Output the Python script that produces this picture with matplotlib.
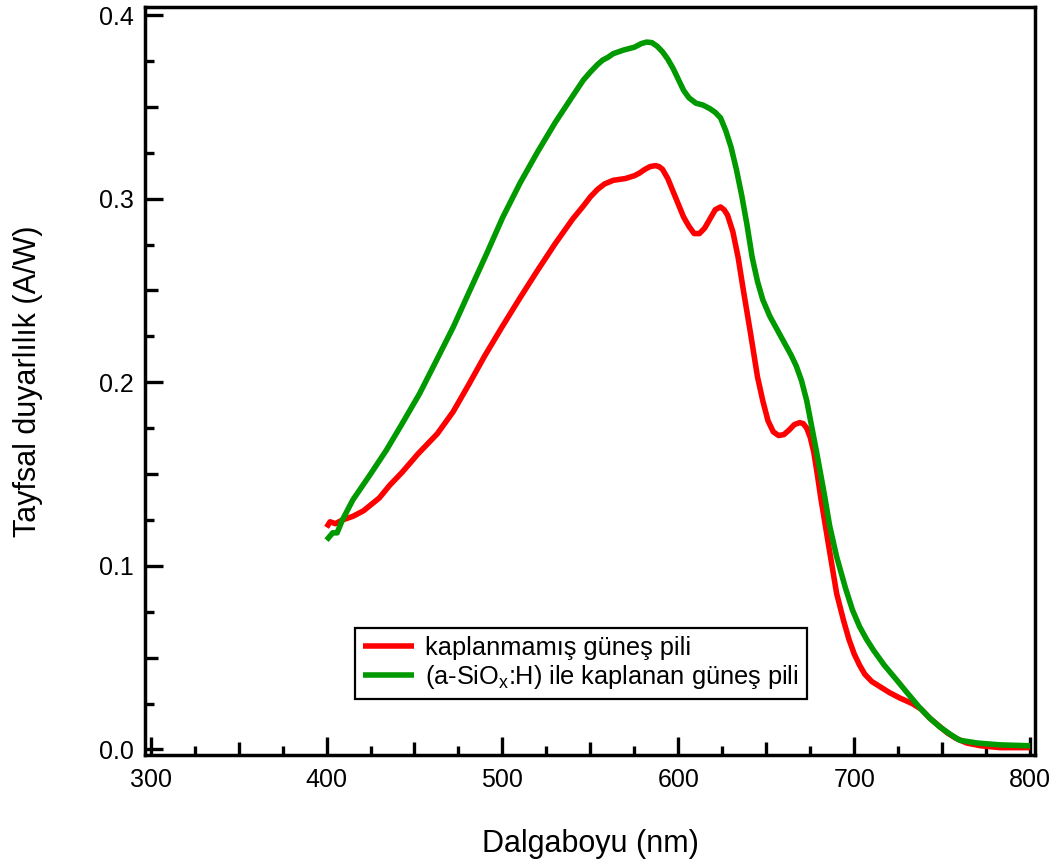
import matplotlib
matplotlib.use("Agg")
import matplotlib.pyplot as plt
from matplotlib.ticker import MultipleLocator, FixedLocator, FormatStrFormatter

plt.rcParams['font.family'] = ['Liberation Sans', 'DejaVu Sans']
plt.rcParams['mathtext.default'] = 'regular'

# Spectral response data (wavelength in nm, responsivity in A/W)
wl_uncoated = [400, 402, 405, 409, 415, 421, 430, 436, 443, 452, 463, 472, 481,
               490, 500, 510, 520, 530, 540, 546, 550, 554, 558, 563, 570, 575,
               578, 581, 584, 587, 589, 591, 594, 597, 600, 603, 606, 609, 612,
               615, 618, 621, 624, 626, 628, 631, 634, 637, 641, 645, 648, 651,
               654, 657, 660, 663, 666, 669, 671, 673, 675, 677, 679, 681, 686,
               690, 694, 697, 700, 703, 706, 710, 715, 720, 726, 733, 738, 743,
               748, 753, 758, 764, 772, 783, 800]
resp_uncoated = [0.121, 0.124, 0.123, 0.125, 0.127, 0.130, 0.137, 0.144, 0.151,
                 0.161, 0.172, 0.184, 0.199, 0.2145, 0.2305, 0.246, 0.261,
                 0.2755, 0.289, 0.296, 0.301, 0.305, 0.308, 0.310, 0.311,
                 0.3125, 0.314, 0.316, 0.3175, 0.318, 0.3175, 0.316, 0.311,
                 0.304, 0.297, 0.290, 0.285, 0.281, 0.281, 0.284, 0.289, 0.294,
                 0.2955, 0.294, 0.291, 0.282, 0.268, 0.250, 0.227, 0.203, 0.190,
                 0.179, 0.173, 0.171, 0.1715, 0.174, 0.177, 0.178, 0.1775,
                 0.175, 0.170, 0.162, 0.150, 0.137, 0.108, 0.085, 0.070, 0.060,
                 0.052, 0.046, 0.041, 0.037, 0.034, 0.031, 0.028, 0.025, 0.022,
                 0.017, 0.013, 0.009, 0.006, 0.0035, 0.002, 0.001, 0.001]

wl_coated = [400, 403.5, 406, 409, 415, 425, 434, 443, 453, 462, 472, 481, 491,
             500, 510, 520, 530, 540, 546, 550, 554, 557, 560, 563, 569, 575,
             579, 582, 585, 588, 591, 594, 597, 600, 603, 606, 610, 614, 618,
             621, 624, 627, 630, 633, 636, 639, 642, 645, 648, 652, 656, 660,
             664, 667, 670, 673, 676, 679, 683, 686, 690, 695, 699, 703, 707,
             711, 717, 724, 730, 737, 743, 749, 755, 760, 770, 783, 800]
resp_coated = [0.114, 0.118, 0.118, 0.125, 0.136, 0.150, 0.163, 0.1775, 0.194,
               0.211, 0.230, 0.249, 0.270, 0.2895, 0.3085, 0.3255, 0.3415,
               0.356, 0.3646, 0.369, 0.373, 0.3755, 0.377, 0.379, 0.381,
               0.3825, 0.3845, 0.3853, 0.385, 0.383, 0.380, 0.376, 0.371,
               0.365, 0.359, 0.355, 0.352, 0.351, 0.349, 0.347, 0.344, 0.337,
               0.328, 0.316, 0.302, 0.286, 0.268, 0.255, 0.245, 0.236, 0.229,
               0.222, 0.215, 0.209, 0.201, 0.190, 0.175, 0.160, 0.139, 0.122,
               0.105, 0.088, 0.076, 0.067, 0.060, 0.054, 0.046, 0.038, 0.031,
               0.023, 0.017, 0.012, 0.008, 0.005, 0.0035, 0.0025, 0.002]

label_uncoated = "kaplanmamış güneş pili"
label_coated = "(a-SiO$_x$:H) ile kaplanan güneş pili"

fig = plt.figure(figsize=(10.54, 8.66), dpi=100)
ax = fig.add_axes([0.1376, 0.128, 0.8444, 0.8639])

ax.plot(wl_uncoated, resp_uncoated, color='#ff0000', lw=4.0,
        label=label_uncoated, solid_joinstyle='round', solid_capstyle='butt')
ax.plot(wl_coated, resp_coated, color='#009900', lw=4.0,
        label=label_coated, solid_joinstyle='round', solid_capstyle='butt')

ax.set_xlim(296.8, 802.8)
ax.set_ylim(-0.0031, 0.4044)

for side in ['left', 'bottom', 'top', 'right']:
    ax.spines[side].set_linewidth(2.5)

ax.xaxis.set_major_locator(MultipleLocator(100))
ax.xaxis.set_minor_locator(FixedLocator([325, 375, 425, 475, 525, 575, 625,
                                          675, 725, 775]))
ax.yaxis.set_major_locator(MultipleLocator(0.1))
ax.yaxis.set_minor_locator(FixedLocator([0.025, 0.075, 0.125, 0.175, 0.225,
                                          0.275, 0.325, 0.375]))
ax.yaxis.set_major_formatter(FormatStrFormatter('%.1f'))

ax.tick_params(which='major', direction='in', length=13, width=2.4,
               labelsize=18, top=False, right=False)
ax.tick_params(which='minor', direction='in', length=6.8, width=2.4,
               top=False, right=False)
ax.tick_params(axis='x', which='major', pad=9)
ax.tick_params(axis='y', which='major', pad=8)

# Intermediate tick marks at the half-steps
secx = ax.secondary_xaxis('bottom')
secx.set_xticks([350, 450, 550, 650, 750])
secx.tick_params(direction='in', length=9.7, width=2.4, labelbottom=False)
secx.spines['bottom'].set_visible(False)
secy = ax.secondary_yaxis('left')
secy.set_yticks([0.05, 0.15, 0.25, 0.35])
secy.tick_params(direction='in', length=9.7, width=2.4, labelleft=False)
secy.spines['left'].set_visible(False)

ax.set_xlabel("Dalgaboyu (nm)", fontsize=22, labelpad=27)
ax.set_ylabel("Tayfsal duyarlılık (A/W)", fontsize=22, labelpad=40)

leg = ax.legend(loc='lower left', bbox_to_anchor=(0.236, 0.075),
                borderaxespad=0, fontsize=18.3, frameon=True, fancybox=False,
                edgecolor='black', framealpha=1, handlelength=2.0,
                handletextpad=0.45, labelspacing=0.12, borderpad=0.32)
leg.get_frame().set_linewidth(1.6)

fig.savefig("out.png", dpi=100)
